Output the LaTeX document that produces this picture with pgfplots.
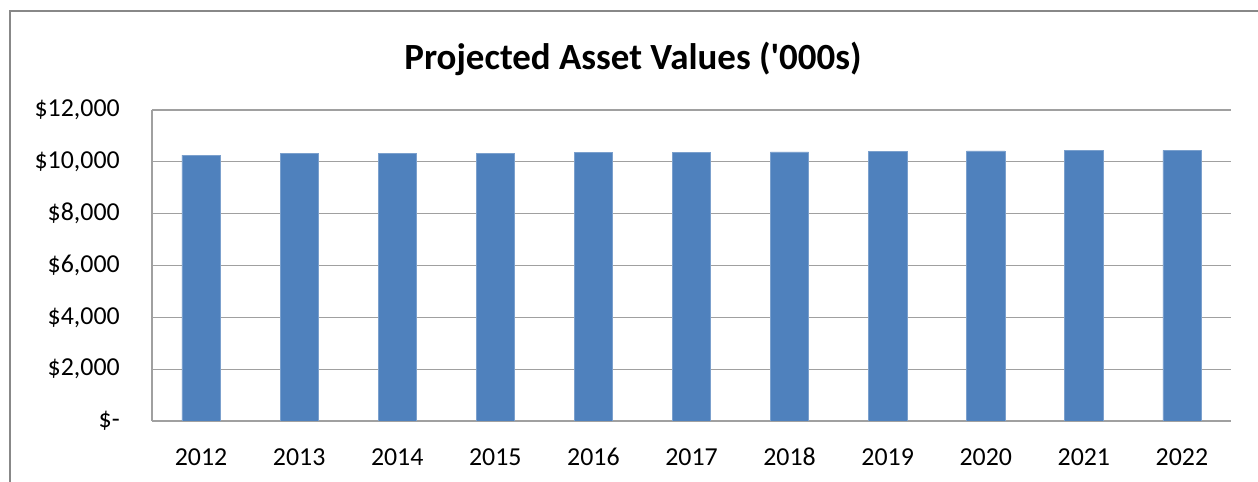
\documentclass[border=0pt]{standalone}
\usepackage{fontspec}
\setmainfont{Carlito}[Ligatures=TeXOff]
\usepackage{pgfplots}
\pgfplotsset{compat=1.18}
\definecolor{barblue}{RGB}{79,129,189}
\definecolor{gridgray}{RGB}{160,160,160}
\definecolor{framegray}{RGB}{136,136,136}

\begin{document}
\begin{tikzpicture}
\useasboundingbox (0,0) rectangle (943.5pt,361.5pt);
% outer chart frame (only left and top are inside the crop)
\draw[framegray, line width=1.5pt] (7.5pt,0) -- (7.5pt,353.25pt) -- (943.5pt,353.25pt);
\begin{axis}[
    at={(114pt,45.75pt)}, anchor=south west,
    scale only axis,
    width=809.25pt, height=233.25pt,
    ybar, bar width=28.7pt,
    xmin=-0.5, xmax=10.5,
    ymin=0, ymax=12000,
    scaled y ticks=false,
    xtick={0,...,10},
    xticklabels={2012,2013,2014,2015,2016,2017,2018,2019,2020,2021,2022},
    ytick={0,2000,4000,6000,8000,10000,12000},
    yticklabels={{\$-\hspace{9.75pt}},{\$2,000},{\$4,000},{\$6,000},{\$8,000},{\$10,000},{\$12,000}},
    major tick length=0pt,
    axis x line*=bottom, axis y line*=left,
    axis line style={gridgray, line width=0.9pt, -},
    ymajorgrids, grid style={gridgray, line width=0.9pt},
    xticklabel style={font=\fontsize{19.4}{22}\selectfont, anchor=center, inner sep=0pt, yshift=-27pt},
    yticklabel style={font=\fontsize{19.4}{22}\selectfont, anchor=east, inner sep=0pt, xshift=-24pt},
    title={Projected Asset Values ('000s)},
    title style={font=\fontsize{27.7}{32}\bfseries, at={(rel axis cs:0.4458,1.138)}, anchor=center, inner sep=0pt},
]
\addplot[fill=barblue, draw=barblue!75!white, line width=0.4pt] coordinates {
    (0,10260) (1,10320) (2,10330) (3,10340) (4,10360) (5,10370)
    (6,10380) (7,10410) (8,10420) (9,10430) (10,10440)
};
\end{axis}
\end{tikzpicture}
\end{document}
